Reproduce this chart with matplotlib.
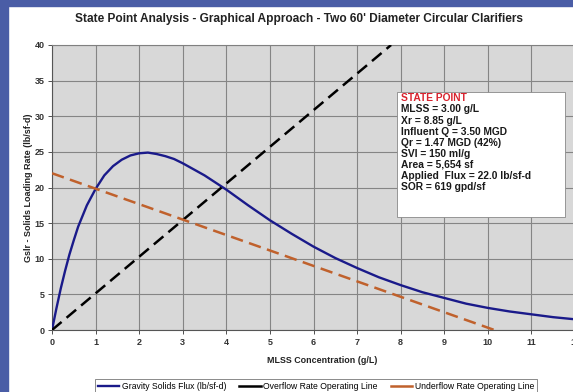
import matplotlib.pyplot as plt
from matplotlib.patches import Rectangle
import numpy as np

# Values
mlss = [0, 0.1, 0.2, 0.3, 0.4, 0.5, 0.6, 0.8, 1.0, 1.2, 1.4, 1.6, 1.8, 2.0, 2.2,
        2.4, 2.6, 2.8, 3.0, 3.5, 4.0, 4.5, 5.0, 5.5, 6.0, 6.5, 7.0, 7.5, 8.0,
        8.5, 9.0, 9.5, 10.0, 10.5, 11.0, 11.5, 12.0]
gravity_flux = [0, 3.0, 5.8, 8.3, 10.6, 12.6, 14.5, 17.5, 19.8, 21.7, 23.0, 23.9,
                24.5, 24.8, 24.9, 24.7, 24.4, 24.0, 23.4, 21.7, 19.7, 17.5, 15.4,
                13.5, 11.7, 10.1, 8.7, 7.4, 6.3, 5.3, 4.5, 3.7, 3.1, 2.6, 2.2, 1.8, 1.5]
overflow_x = [0, 7.78]
overflow_y = [0, 40]
underflow_x = [0, 10.15]
underflow_y = [22.0, 0]

state_title = 'STATE POINT'
state_lines = ['MLSS = 3.00 g/L', 'Xr = 8.85 g/L', 'Influent Q = 3.50 MGD',
               'Qr = 1.47 MGD (42%)', 'SVI = 150 ml/g', 'Area = 5,654 sf',
               'Applied  Flux = 22.0 lb/sf-d', 'SOR = 619 gpd/sf']

plt.rcParams['font.family'] = ['Liberation Sans', 'DejaVu Sans']

W, H = 573, 392
fig = plt.figure(figsize=(W / 100, H / 100), dpi=100)
fig.patch.set_facecolor('white')

# blue frame strips on the left and top
border = '#4a5da6'
fig.patches.append(Rectangle((0, 0), 8 / W, 1, transform=fig.transFigure, color=border, zorder=-1))
fig.patches.append(Rectangle((0, 1 - 6 / H), 1, 6 / H, transform=fig.transFigure, color=border, zorder=-1))

ax = fig.add_axes([52 / W, 1 - 330 / H, 523 / W, 285 / H])
ax.set_facecolor('#d8d8d8')

ax.plot(mlss, gravity_flux, color='#1a1a8a', lw=1.7, label='Gravity Solids Flux (lb/sf-d)', zorder=3)
ax.plot(overflow_x, overflow_y, color='black', lw=1.8, dashes=(5, 2.6), label='Overflow Rate Operating Line', zorder=3)
ax.plot(underflow_x, underflow_y, color='#c0612c', lw=1.8, dashes=(5, 2.6), label='Underflow Rate Operating Line', zorder=3)

ax.set_xlim(0, 12)
ax.set_ylim(0, 40)
ax.set_xticks(np.arange(0, 13, 1))
ax.set_yticks(np.arange(0, 41, 5))
ax.grid(True, color='#858585', lw=0.8)
ax.set_axisbelow(True)
ax.tick_params(labelsize=6.5, colors='#333333', length=3, width=0.6, pad=2.5)
for lbl in ax.get_xticklabels() + ax.get_yticklabels():
    lbl.set_fontweight('bold')
for s in ax.spines.values():
    s.set_color('#808080')
    s.set_linewidth(0.8)
ax.spines['left'].set_color('#555555')
ax.spines['bottom'].set_color('#555555')

ax.set_xlabel('MLSS Concentration (g/L)', fontsize=6.4, fontweight='bold', color='#222222', labelpad=3.5)
ax.xaxis.set_label_coords((322 - 52) / 523, -(356 - 330) / 285)
ax.set_ylabel('Gslr - Solids Loading Rate (lb/sf-d)', fontsize=6.5, fontweight='bold', color='#222222')
ax.yaxis.set_label_coords(-(52 - 33.5) / 523, 0.5)

fig.text(299 / W, 1 - 19 / H, "State Point Analysis - Graphical Approach - Two 60' Diameter Circular Clarifiers",
         ha='center', va='center', fontsize=8.6, fontweight='bold', color='#222222')

# state point box
fig.patches.append(Rectangle((397 / W, 1 - 217 / H), 168 / W, 125 / H, transform=fig.transFigure,
                             facecolor='white', edgecolor='#888888', lw=0.6, zorder=5))
fig.text(401 / W, 1 - 98.3 / H, state_title, ha='left', va='center', fontsize=7.4,
         fontweight='bold', color='#d9232e', zorder=6)
for i, line in enumerate(state_lines):
    fig.text(401 / W, 1 - (109.4 + 11.1 * i) / H, line, ha='left', va='center', fontsize=7.4,
             fontweight='bold', color='#1a1a1a', zorder=6)

leg = fig.legend(loc='upper center', bbox_to_anchor=(316 / W, 1 - 379 / H), ncol=3,
                 fontsize=6.2, frameon=True, fancybox=False, handlelength=2.5,
                 columnspacing=1.5, borderpad=0.35, handletextpad=0.3, borderaxespad=0)
leg.get_frame().set_edgecolor('#555555')
leg.get_frame().set_linewidth(0.6)
for h in leg.get_lines():
    h.set_linestyle('-')

fig.savefig('out.png', dpi=100)
